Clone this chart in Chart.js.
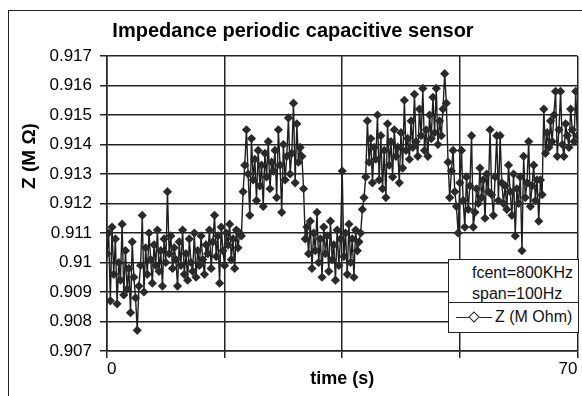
<!doctype html>
<html lang="en">
<head>
<meta charset="utf-8">
<title>Impedance periodic capacitive sensor</title>
<script src="https://cdn.jsdelivr.net/npm/chart.js@4.4.1/dist/chart.umd.min.js"></script>
<style>
  body { margin: 0; overflow: hidden; background: #fff; font-family: Arial, "Liberation Sans", sans-serif; }
  #wrap { position: relative; width: 582px; height: 396px; overflow: hidden; }
  #frame { position: absolute; left: 8px; top: 10px; width: 700px; height: 500px;
           border-left: 1.5px solid #222; border-top: 1.5px solid #222; }
  #legend { position: absolute; left: 448px; top: 259px; width: 129px; height: 72px;
            border: 1.5px solid #222; background: #fff; font-size: 16px; color: #111; }
  #legend .info { height: 43px; border-bottom: 1.5px solid #222; padding-left: 23px; line-height: 21px; padding-top: 2px; box-sizing: border-box; }
  #legend .entry { position: relative; height: 28px; line-height: 28px; padding-left: 46px; }
  #legend .ln { position: absolute; left: 7px; top: 14px; width: 36px; border-top: 1.2px solid #222; }
  #legend .dm { position: absolute; left: 21px; top: 10px; width: 6px; height: 6px; background: #fff;
                border: 1.2px solid #222; transform: rotate(45deg); }
</style>
</head>
<body>
<div id="wrap">
  <div id="frame"></div>
  <canvas id="myChart" width="582" height="396"></canvas>
  <div id="legend">
    <div class="info">fcent=800KHz<br>span=100Hz</div>
    <div class="entry"><span class="ln"></span><span class="dm"></span>Z (M Ohm)</div>
  </div>
</div>
<script>
// sampling interval of the recording (s)
var sampleStep = 0.25;

// impedance readings, M Ohm, one every 0.25 s from t = 0 to 70
var zValues = [
  0.9103, 0.9110, 0.9087, 0.9112, 0.9096, 0.9108, 0.9086, 0.9100, 0.9094, 0.9113, 0.9089, 0.9104, 0.9091, 0.9098, 0.9083, 0.9107, 0.9095, 0.9088, 0.9077, 0.9092,
  0.9099, 0.9116, 0.9090, 0.9105, 0.9096, 0.9110, 0.9101, 0.9093, 0.9106, 0.9099, 0.9111, 0.9097, 0.9104, 0.9092, 0.9108, 0.9100, 0.9124, 0.9103, 0.9109, 0.9098,
  0.9105, 0.9101, 0.9092, 0.9107, 0.9099, 0.9111, 0.9096, 0.9103, 0.9094, 0.9108, 0.9100, 0.9097, 0.9110, 0.9095, 0.9104, 0.9099, 0.9109, 0.9101, 0.9096, 0.9106,
  0.9103, 0.9111, 0.9098, 0.9107, 0.9116, 0.9102, 0.9109, 0.9093, 0.9112, 0.9104, 0.9099, 0.9110, 0.9106, 0.9113, 0.9101, 0.9108, 0.9098, 0.9111, 0.9105, 0.9110,
  0.9109, 0.9124, 0.9133, 0.9145, 0.9130, 0.9116, 0.9142, 0.9128, 0.9135, 0.9121, 0.9138, 0.9126, 0.9133, 0.9119, 0.9137, 0.9129, 0.9141, 0.9125, 0.9134, 0.9131,
  0.9138, 0.9122, 0.9145, 0.9133, 0.9117, 0.9140, 0.9128, 0.9136, 0.9149, 0.9130, 0.9137, 0.9154, 0.9127, 0.9147, 0.9134, 0.9139, 0.9136, 0.9125, 0.9108, 0.9112,
  0.9103, 0.9114, 0.9098, 0.9110, 0.9104, 0.9117, 0.9100, 0.9108, 0.9095, 0.9112, 0.9103, 0.9109, 0.9097, 0.9114, 0.9101, 0.9106, 0.9094, 0.9111, 0.9099, 0.9108,
  0.9131, 0.9102, 0.9110, 0.9096, 0.9113, 0.9100, 0.9108, 0.9095, 0.9111, 0.9104, 0.9107, 0.9110, 0.9118, 0.9122, 0.9129, 0.9148, 0.9134, 0.9142, 0.9127, 0.9139,
  0.9135, 0.9150, 0.9128, 0.9143, 0.9125, 0.9138, 0.9122, 0.9147, 0.9133, 0.9141, 0.9129, 0.9145, 0.9136, 0.9139, 0.9127, 0.9144, 0.9132, 0.9155, 0.9138, 0.9142,
  0.9135, 0.9148, 0.9139, 0.9157, 0.9141, 0.9136, 0.9152, 0.9143, 0.9159, 0.9138, 0.9145, 0.9136, 0.9150, 0.9142, 0.9156, 0.9144, 0.9159, 0.9140, 0.9148, 0.9143,
  0.9152, 0.9164, 0.9154, 0.9134, 0.9122, 0.9131, 0.9138, 0.9124, 0.9119, 0.9110, 0.9127, 0.9138, 0.9121, 0.9112, 0.9129, 0.9118, 0.9126, 0.9143, 0.9112, 0.9117,
  0.9125, 0.9120, 0.9132, 0.9122, 0.9128, 0.9115, 0.9130, 0.9124, 0.9145, 0.9123, 0.9116, 0.9129, 0.9143, 0.9121, 0.9143, 0.9127, 0.9120, 0.9126, 0.9118, 0.9133,
  0.9124, 0.9116, 0.9130, 0.9109, 0.9125, 0.9120, 0.9129, 0.9104, 0.9136, 0.9122, 0.9127, 0.9141, 0.9119, 0.9126, 0.9133, 0.9121, 0.9128, 0.9114, 0.9128, 0.9123,
  0.9152, 0.9137, 0.9144, 0.9139, 0.9148, 0.9141, 0.9150, 0.9158, 0.9136, 0.9145, 0.9158, 0.9140, 0.9136, 0.9147, 0.9143, 0.9139, 0.9152, 0.9145, 0.9141, 0.9158,
  0.9143
];

var xTicks = [0, 17.5, 35, 52.5, 70];
var xLabels = ['0', '', '', '', '70'];
var yMin = 0.907, yMax = 0.917, yStep = 0.001;

var points = [];
for (var i = 0; i < zValues.length; i++) {
  points.push({ x: i * sampleStep, y: zValues[i] });
}

var ink = '#222';
var fontFam = 'Arial, "Liberation Sans", sans-serif';

// y axis title sits above the middle of the axis, as in the original
var yTitlePlugin = {
  id: 'yTitle',
  afterDraw: function (chart) {
    var ctx = chart.ctx;
    ctx.save();
    ctx.translate(30, 156);
    ctx.rotate(-Math.PI / 2);
    ctx.font = 'bold 19px ' + fontFam;
    ctx.fillStyle = '#000';
    ctx.textAlign = 'center';
    ctx.textBaseline = 'middle';
    ctx.fillText('Z (M \u03A9)', 0, 0);
    ctx.restore();
  }
};

var myChart = document.getElementById('myChart').getContext('2d');
var chart = new Chart(myChart, {
  type: 'line',
  data: {
    datasets: [{
      label: 'Z (M Ohm)',
      data: points,
      borderColor: '#1e1e1e',
      borderWidth: 1.4,
      backgroundColor: '#2a2a2a',
      pointStyle: 'rectRot',
      pointRadius: 4.6,
      pointBorderWidth: 0,
      pointBackgroundColor: '#2a2a2a',
      tension: 0
    }]
  },
  options: {
    responsive: false,
    animation: false,
    layout: { padding: { left: 8, top: 10, right: 4, bottom: 0 } },
    plugins: {
      legend: { display: false },
      tooltip: { enabled: false },
      title: {
        display: true,
        text: 'Impedance periodic capacitive sensor',
        color: '#000',
        font: { family: fontFam, size: 20, weight: 'bold' },
        padding: { top: 9, bottom: 13 }
      }
    },
    scales: {
      x: {
        type: 'linear',
        min: 0,
        max: 70,
        afterBuildTicks: function (scale) {
          scale.ticks = xTicks.map(function (v) { return { value: v }; });
        },
        afterFit: function (scale) { scale.height = 45; },
        ticks: {
          autoSkip: false,
          maxRotation: 0,
          align: 'inner',
          padding: 1,
          color: '#000',
          font: { family: fontFam, size: 17 },
          callback: function (v) { return xLabels[xTicks.indexOf(v)]; }
        },
        grid: { color: ink, lineWidth: 1.5, tickLength: 7 },
        border: { color: ink, width: 1.5 },
        title: {
          display: true,
          text: 'time (s)',
          color: '#000',
          font: { family: fontFam, size: 18, weight: 'bold' },
          padding: { top: 0, bottom: 6 }
        }
      },
      y: {
        min: yMin,
        max: yMax,
        afterFit: function (scale) { scale.width = 99; },
        ticks: {
          stepSize: yStep,
          padding: 8,
          color: '#000',
          font: { family: fontFam, size: 17 },
          callback: function (v) { return String(parseFloat(v.toFixed(3))); }
        },
        grid: { color: ink, lineWidth: 1.5, tickLength: 7 },
        border: { color: ink, width: 1.5 }
      }
    }
  },
  plugins: [yTitlePlugin]
});
</script>
</body>
</html>
